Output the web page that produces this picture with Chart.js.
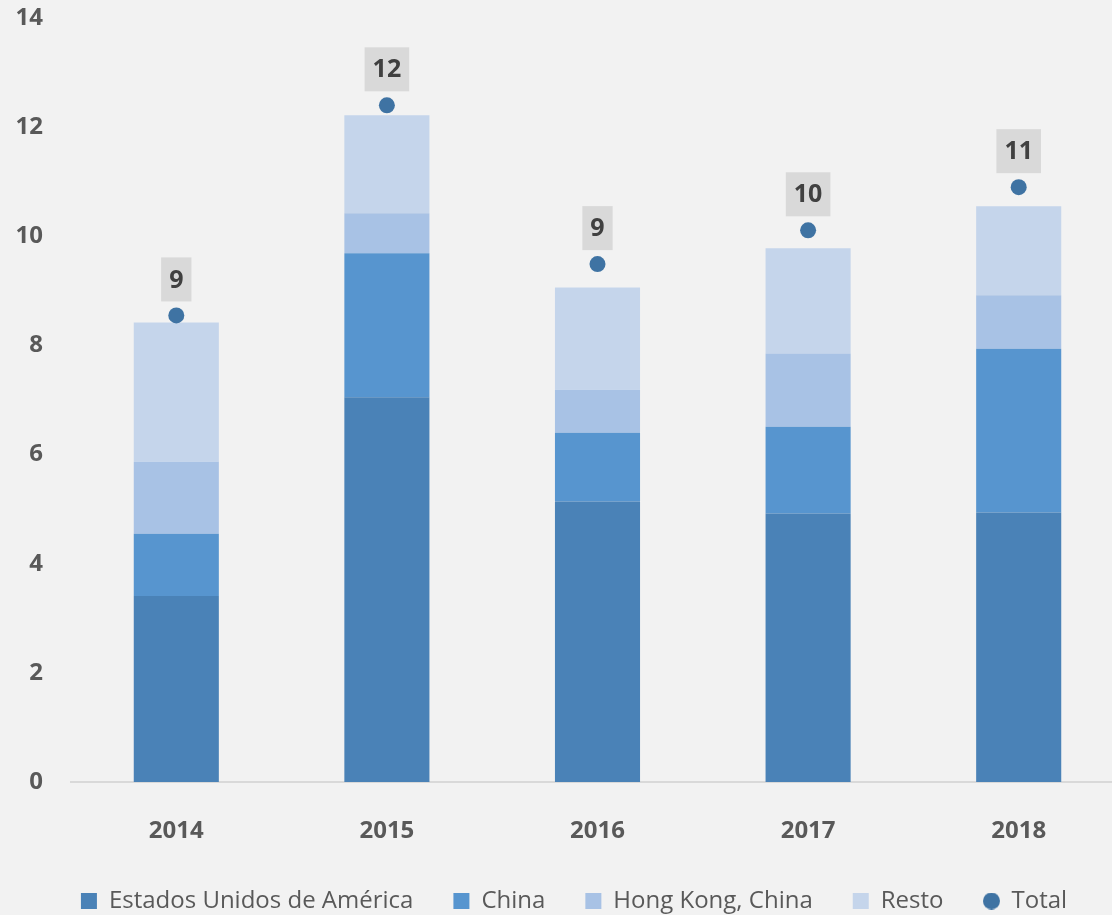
<!DOCTYPE html>
<html>
<head>
<meta charset="utf-8">
<script src="https://cdn.jsdelivr.net/npm/chart.js@4.4.0/dist/chart.umd.min.js"></script>
<style>
  html, body { margin: 0; padding: 0; background: #f2f2f2; overflow: hidden; }
  #wrap { width: 1112px; height: 915px; overflow: hidden; }
  canvas { display: block; }
</style>
</head>
<body>
<div id="wrap"><canvas id="chart" width="1132" height="915"></canvas></div>
<script>
// === DATA ===
const years = ["2014", "2015", "2016", "2017", "2018"];
const usa = [3.41, 7.05, 5.14, 4.92, 4.94];
const china = [1.14, 2.64, 1.26, 1.59, 3.00];
const hongKong = [1.32, 0.73, 0.79, 1.34, 0.98];
const resto = [2.55, 1.80, 1.87, 1.93, 1.63];
const total = [8.55, 12.40, 9.49, 10.11, 10.90];
const totalLabels = ["9", "12", "9", "10", "11"];
const yTicks = [0, 2, 4, 6, 8, 10, 12, 14];

const FONT = "'Open Sans', 'DejaVu Sans', sans-serif";
const DOT = "#3f73a3";

// small dot for the legend (default circle is too big)
const legendDot = document.createElement("canvas");
legendDot.width = 17;
legendDot.height = 17;
const dctx = legendDot.getContext("2d");
dctx.fillStyle = DOT;
dctx.beginPath();
dctx.arc(8.5, 8.5, 8.5, 0, Math.PI * 2);
dctx.fill();

// === label boxes above the Total dots ===
const totalBoxes = {
  id: "totalBoxes",
  afterDatasetsDraw(chart) {
    const ctx = chart.ctx;
    const meta = chart.getDatasetMeta(4);
    ctx.save();
    ctx.font = "bold 25px " + FONT;
    ctx.textAlign = "center";
    ctx.textBaseline = "middle";
    meta.data.forEach((pt, i) => {
      const txt = totalLabels[i];
      const w = ctx.measureText(txt).width + 16;
      const h = 44;
      const bottom = pt.y - 14;
      ctx.fillStyle = "#d9d9d9";
      ctx.fillRect(pt.x - w / 2, bottom - h, w, h);
      ctx.fillStyle = "#404040";
      ctx.fillText(txt, pt.x, bottom - h / 2 + 1);
    });
    ctx.restore();
  }
};

const barDs = (label, data, color) => ({
  type: "bar",
  label,
  data,
  backgroundColor: color,
  stack: "paises",
  order: 1,
  categoryPercentage: 1,
  barPercentage: 0.404
});

new Chart(document.getElementById("chart"), {
  data: {
    labels: years,
    datasets: [
      barDs("Estados Unidos de América", usa, "#4a82b7"),
      barDs("China", china, "#5795cf"),
      barDs("Hong Kong, China", hongKong, "#a8c2e5"),
      barDs("Resto", resto, "#c5d5eb"),
      {
        type: "line",
        label: "Total",
        data: total,
        stack: "total",
        order: 0,
        showLine: false,
        pointRadius: 8,
        pointHoverRadius: 8,
        pointBackgroundColor: DOT,
        pointBorderWidth: 0,
        pointStyle: "circle"
      }
    ]
  },
  options: {
    responsive: false,
    animation: false,
    layout: { padding: { top: 18, right: 0, left: 16, bottom: -8 } },
    plugins: {
      tooltip: { enabled: false },
      legend: {
        position: "bottom",
        labels: {
          color: "#595959",
          font: { family: FONT, size: 24 },
          usePointStyle: true,
          boxWidth: 16,
          boxHeight: 16,
          padding: 40,
          generateLabels(chart) {
            return chart.data.datasets.map((ds, i) => ({
              text: ds.label,
              fillStyle: ds.type === "line" ? DOT : ds.backgroundColor,
              strokeStyle: "transparent",
              lineWidth: 0,
              pointStyle: ds.type === "line" ? legendDot : "rect",
              fontColor: "#595959",
              datasetIndex: i
            }));
          }
        }
      }
    },
    scales: {
      x: {
        stacked: true,
        afterFit(scale) {
          scale.height = 67;
          scale.paddingLeft = 0;
          scale.paddingRight = 0;
        },
        grid: { display: false, drawTicks: false },
        border: { color: "#d9d9d9", width: 2 },
        ticks: {
          color: "#595959",
          font: { family: FONT, size: 24, weight: "bold" },
          padding: 35
        }
      },
      y: {
        stacked: true,
        min: 0,
        max: 14,
        afterBuildTicks(scale) {
          scale.ticks = yTicks.map(v => ({ value: v }));
        },
        afterFit(scale) {
          scale.width = 55;
          scale.paddingTop = 0;
          scale.paddingBottom = 0;
        },
        grid: { display: false, drawTicks: false },
        border: { display: false },
        ticks: {
          color: "#595959",
          font: { family: FONT, size: 24, weight: "bold" },
          padding: 28
        }
      }
    }
  },
  plugins: [totalBoxes]
});
</script>
</body>
</html>
